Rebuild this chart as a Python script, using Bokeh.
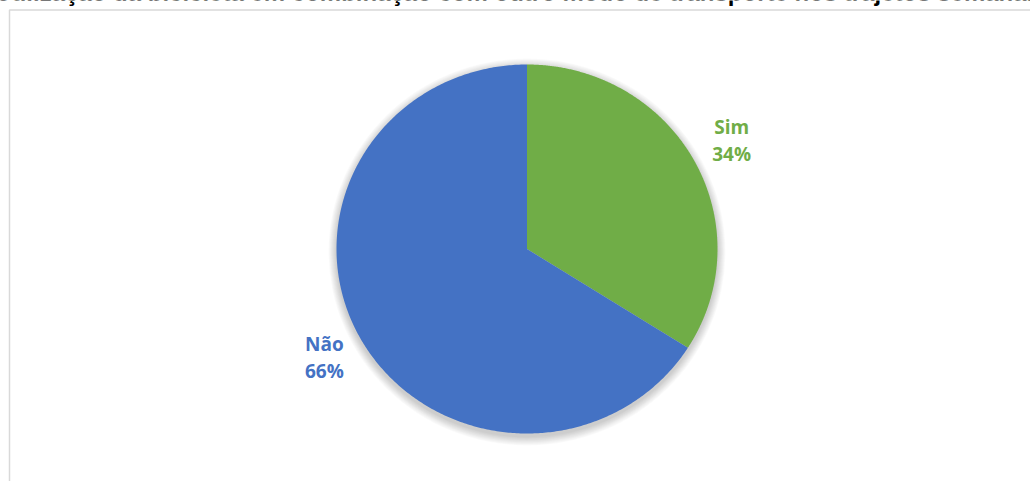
import numpy as np
from bokeh.plotting import figure
from bokeh.models import Range1d, ColumnDataSource
from bokeh.core.properties import value
from bokeh.embed import file_html
from bokeh.resources import INLINE

# ---- data ----
title_text = "Utilização da bicicleta em combinação com outro modo de transporte nos trajetos semanais"
categories = ["Sim", "Não"]
values = [34, 66]
colors = ["#70AD47", "#4472C4"]

# ---- layout (pixel geometry of the picture) ----
W, H = 1030, 481
CX, CY = 526.5, 248.5      # pie centre (px from top-left)
RX, RY = 190.5, 184.5      # pie radii (px)


def px(x):
    return (x - CX) / RX


def py(y):
    return (CY - y) / RY


p = figure(width=W, height=H, x_range=Range1d(px(0), px(W)), y_range=Range1d(py(H), py(0)),
           min_border=0, toolbar_location=None, output_backend="svg",
           x_axis_location=None, y_axis_location=None)
p.grid.visible = False
p.outline_line_color = None
p.background_fill_color = "white"
p.border_fill_color = "white"

# chart-area border (top and left edges visible)
p.line([px(9), px(9), px(W + 5)], [py(H + 5), py(9.5), py(9.5)], line_color="#d9d9d9", line_width=1.5)

# title (cropped at the top in the original)
p.text(x=[px(520)], y=[py(-8)], text=[title_text], text_font=value("Liberation Sans"),
       text_font_style="bold", text_font_size="24px", text_color="black",
       text_align="center", text_baseline="alphabetic")

# soft shadow
for k in range(1, 11):
    p.ellipse(x=[0], y=[py(CY + 3)], width=[2 * (RX + k * 0.8) / RX], height=[2 * (RY + k * 0.9) / RY],
              fill_color="black", fill_alpha=0.018, line_color=None)

# wedges
total = float(sum(values))
start = np.pi / 2
xs, ys, mids = [], [], []
for v in values:
    end = start - 2 * np.pi * v / total
    t = np.linspace(start, end, 400)
    xs.append(np.concatenate([[0], np.cos(t)]))
    ys.append(np.concatenate([[0], np.sin(t)]))
    mids.append((start + end) / 2)
    start = end

p.patches(xs=xs, ys=ys, fill_color=colors, line_color=None)

# labels
R_LAB = 1.22
lab_src = ColumnDataSource(dict(
    x=[R_LAB * np.cos(m) + 1.0 / RX for m in mids] * 2,
    y=[R_LAB * np.sin(m) + 13.5 / RY for m in mids] + [R_LAB * np.sin(m) - 13.5 / RY for m in mids],
    text=categories + [f"{v}%" for v in values],
    color=colors * 2,
))
p.text(x="x", y="y", text="text", source=lab_src, text_color="color",
       text_font=value("Open Sans"), text_font_style="bold", text_font_size="19px",
       text_align="center", text_baseline="alphabetic")

open("out.html", "w").write(file_html(p, INLINE))
